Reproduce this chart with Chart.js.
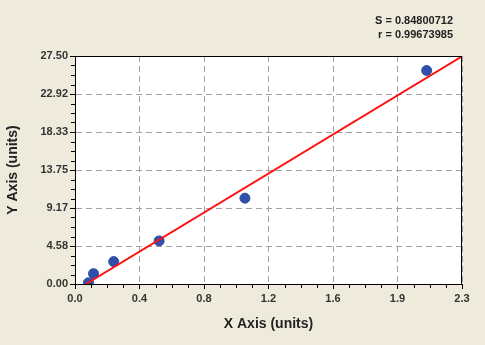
<!DOCTYPE html>
<html>
<head>
<meta charset="utf-8">
<script src="https://cdn.jsdelivr.net/npm/chart.js@4"></script>
<style>
  html, body { margin: 0; padding: 0; background: #EFEBDC; }
  #wrap { width: 485px; height: 345px; }
</style>
</head>
<body>
<div id="wrap"><canvas id="c" width="485" height="345"></canvas></div>
<script>
// ---- data ----
const pointsX = [0.08, 0.11, 0.23, 0.50, 1.01, 2.09];
const pointsY = [0.15, 1.25, 2.70, 5.20, 10.35, 25.75];
const fitX = [0.065, 2.30];
const fitY = [0.00, 27.45];
const xTickLabels = ['0.0', '0.4', '0.8', '1.2', '1.6', '1.9', '2.3'];
const yTickLabels = ['0.00', '4.58', '9.17', '13.75', '18.33', '22.92', '27.50'];
const xMax = 2.3;
const yMax = 27.5;
const statLines = ['S = 0.84800712', 'r = 0.99673985'];
const xTitle = 'X Axis (units)';
const yTitle = 'Y Axis (units)';

const FONT = "'Liberation Sans', Arial, sans-serif";

function majorTicks(labels, max) {
  return labels.map((l, i) => ({ value: i * max / (labels.length - 1) }));
}

const framePlugin = {
  id: 'frame',
  beforeDraw(chart) {
    const { ctx, chartArea: a } = chart;
    ctx.save();
    ctx.fillStyle = '#EFEBDC';
    ctx.fillRect(0, 0, chart.width, chart.height);
    ctx.fillStyle = '#FFFFFF';
    ctx.fillRect(a.left, a.top, a.right - a.left, a.bottom - a.top);
    ctx.restore();
  },
  afterDraw(chart) {
    const { ctx, chartArea: a } = chart;
    const xs = chart.scales.x, ys = chart.scales.y;
    ctx.save();
    ctx.strokeStyle = '#000';
    ctx.lineWidth = 1;
    ctx.strokeRect(a.left + 0.5, a.top + 0.5, a.right - a.left - 1, a.bottom - a.top);
    // minor ticks
    ctx.beginPath();
    const nx = xTickLabels.length - 1;
    for (let i = 0; i < nx; i++) {
      for (let k = 1; k < 4; k++) {
        const v = (i + k / 4) * xMax / nx;
        const px = Math.round(xs.getPixelForValue(v)) + 0.5;
        ctx.moveTo(px, a.bottom);
        ctx.lineTo(px, a.bottom + 4);
      }
    }
    const ny = yTickLabels.length - 1;
    for (let i = 0; i < ny; i++) {
      for (let k = 1; k < 4; k++) {
        const v = (i + k / 4) * yMax / ny;
        const py = Math.round(ys.getPixelForValue(v)) + 0.5;
        ctx.moveTo(a.left - 4, py);
        ctx.lineTo(a.left, py);
      }
    }
    ctx.stroke();
    // statistics text
    ctx.fillStyle = '#222';
    ctx.font = 'bold 11px ' + FONT;
    ctx.textAlign = 'right';
    ctx.textBaseline = 'middle';
    ctx.fillText(statLines[0], 453, 21);
    ctx.fillText(statLines[1], 453, 35);
    ctx.restore();
  }
};

new Chart(document.getElementById('c'), {
  type: 'scatter',
  data: {
    datasets: [
      {
        label: 'fit',
        data: fitX.map((x, i) => ({ x, y: fitY[i] })),
        showLine: true,
        borderColor: '#FF1010',
        borderWidth: 2,
        pointRadius: 0,
        fill: false
      },
      {
        label: 'points',
        data: pointsX.map((x, i) => ({ x, y: pointsY[i] })),
        backgroundColor: '#2F50A8',
        borderColor: '#2F50A8',
        pointRadius: 5,
        pointHoverRadius: 5
      }
    ]
  },
  options: {
    responsive: false,
    animation: false,
    events: [],
    layout: { padding: { left: 0, right: 23, top: 56, bottom: 0 } },
    plugins: {
      legend: { display: false },
      tooltip: { enabled: false }
    },
    scales: {
      x: {
        type: 'linear',
        min: 0, max: xMax,
        afterBuildTicks(s) { s.ticks = majorTicks(xTickLabels, xMax); },
        afterFit(s) { s.height = 61; },
        ticks: {
          callback: (v, i) => xTickLabels[i],
          font: { family: FONT, size: 11, weight: 'bold' },
          color: '#333',
          padding: 3,
          maxRotation: 0,
          autoSkip: false
        },
        grid: {
          color: '#A0A0A0',
          tickColor: '#000',
          tickLength: 5,
          drawTicks: true
        },
        border: { display: true, color: '#000', width: 1, dash: [6, 4] },
        title: {
          display: true,
          text: xTitle,
          font: { family: FONT, size: 14, weight: 'bold' },
          color: '#222',
          padding: { top: 12, bottom: 12 }
        }
      },
      y: {
        type: 'linear',
        min: 0, max: yMax,
        afterBuildTicks(s) { s.ticks = majorTicks(yTickLabels, yMax); },
        afterFit(s) { s.width = 75; },
        ticks: {
          callback: (v, i) => yTickLabels[i],
          font: { family: FONT, size: 11, weight: 'bold' },
          color: '#333',
          padding: 2,
          autoSkip: false
        },
        grid: {
          color: '#A0A0A0',
          tickColor: '#000',
          tickLength: 5,
          drawTicks: true
        },
        border: { display: true, color: '#000', width: 1, dash: [6, 4] },
        title: {
          display: true,
          text: yTitle,
          font: { family: FONT, size: 14, weight: 'bold' },
          color: '#222',
          padding: { top: 5, bottom: 5 }
        }
      }
    }
  },
  plugins: [framePlugin]
});
</script>
</body>
</html>
